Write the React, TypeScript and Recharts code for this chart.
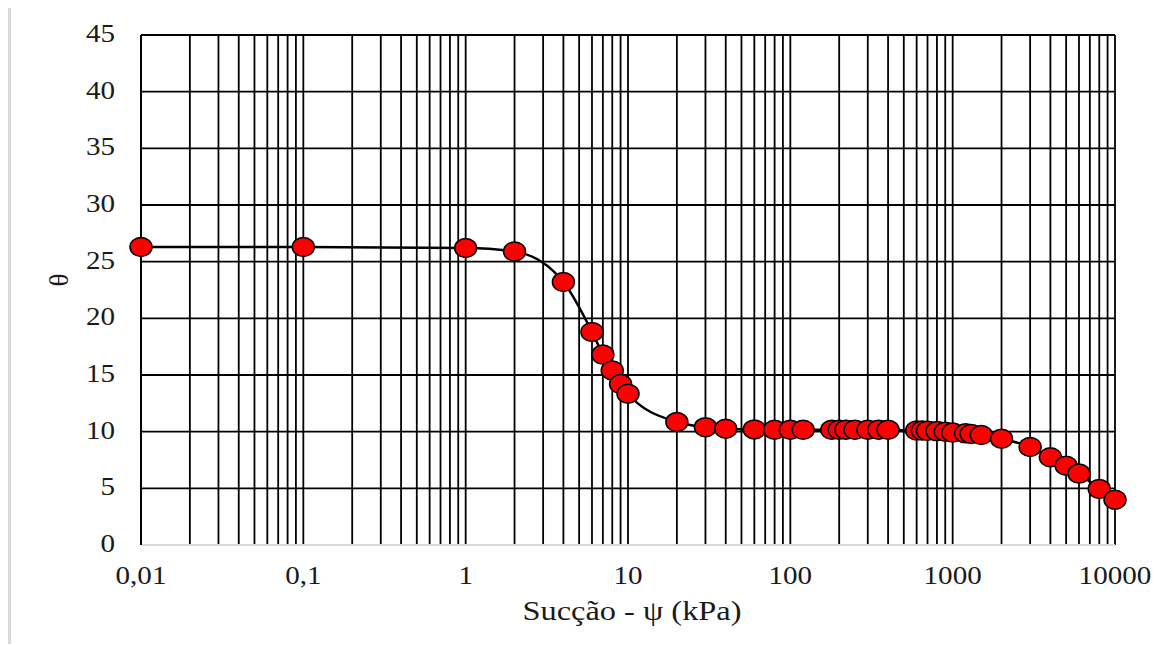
import React from "react";
import { LineChart, Line, XAxis, YAxis, CartesianGrid } from "recharts";

// Retention curve: suction (kPa, log axis) vs volumetric water content θ
const suction = [
  0.01, 0.1, 1, 2, 4, 6, 7, 8, 9, 10, 20, 30, 40, 60, 80, 100, 120, 180, 200,
  220, 250, 300, 350, 400, 600, 650, 700, 800, 900, 1000, 1200, 1300, 1500,
  2000, 3000, 4000, 5000, 6000, 8000, 10000,
];
const theta = [
  26.3, 26.3, 26.2, 25.9, 23.2, 18.8, 16.8, 15.4, 14.2, 13.35, 10.85, 10.4,
  10.26, 10.2, 10.17, 10.17, 10.17, 10.17, 10.17, 10.17, 10.17, 10.17, 10.17,
  10.17, 10.1, 10.1, 10.08, 10.05, 10.0, 9.92, 9.85, 9.8, 9.7, 9.38, 8.65,
  7.75, 7.0, 6.3, 4.95, 4.0,
];

const xTicks = [0.01, 0.1, 1, 10, 100, 1000, 10000];
const yTicks = [0, 5, 10, 15, 20, 25, 30, 35, 40, 45];

// vertical grid at 1..9 of every decade
const xGrid = xTicks
  .slice(0, -1)
  .flatMap((d) => [1, 2, 3, 4, 5, 6, 7, 8, 9].map((m) => +(d * m).toPrecision(3)))
  .concat(10000);

const data = suction.map((s, i) => ({ suction: s, theta: theta[i] }));

const FONT = "'Liberation Serif', 'Times New Roman', serif";
const STRETCH = 1.12;
const TEXT = "#1a1a1a";

const XTick = ({ x, y, payload }: any) => (
  <g transform={`translate(${x},${y + 39})`}>
    <text transform={`scale(${STRETCH},1)`} textAnchor="middle" fontFamily={FONT} fontSize={26} fill={TEXT}>
      {String(payload.value).replace(".", ",")}
    </text>
  </g>
);

const YTick = ({ x, y, payload }: any) => (
  <g transform={`translate(${x - 26},${y + 7})`}>
    <text transform={`scale(${STRETCH},1)`} textAnchor="end" fontFamily={FONT} fontSize={26} fill={TEXT}>
      {payload.value}
    </text>
  </g>
);

const XTitle = ({ viewBox }: any) => (
  <g transform={`translate(${viewBox.x + viewBox.width / 2 + 4},${viewBox.y + 75})`}>
    <text transform="scale(1.2,1)" textAnchor="middle" fontFamily={FONT} fontSize={27} fill={TEXT}>
      Sucção - ψ (kPa)
    </text>
  </g>
);

const YTitle = ({ viewBox }: any) => (
  <g transform={`translate(48,${viewBox.y + viewBox.height / 2 - 10}) rotate(-90)`}>
    <text textAnchor="middle" dominantBaseline="central" fontFamily={FONT} fontSize={27} fill={TEXT}>
      θ
    </text>
  </g>
);

const Dot = ({ cx, cy, index }: any) => (
  <ellipse key={index} cx={cx} cy={cy} rx={11} ry={9.5} fill="#ff0000" stroke="#000" strokeWidth={1.5} />
);

export default function App() {
  return (
    <div style={{ width: 1143, height: 636, borderLeft: "3px solid #d9d9d9" }}>
      <LineChart width={1140} height={636} data={data} margin={{ top: 27, right: 36, left: 0, bottom: 0 }}>
        <CartesianGrid
          stroke="#000"
          strokeWidth={1.8}
          verticalValues={xGrid}
          horizontalValues={yTicks.slice(1)}
        />
        <XAxis
          dataKey="suction"
          type="number"
          scale="log"
          domain={[0.01, 10000]}
          ticks={xTicks}
          interval={0}
          height={99}
          tickSize={0}
          tickMargin={0}
          tick={<XTick />}
          axisLine={{ stroke: "#d9d9d9", strokeWidth: 2 }}
          label={<XTitle />}
        />
        <YAxis
          type="number"
          domain={[0, 45]}
          ticks={yTicks}
          interval={0}
          width={130}
          tickSize={0}
          tickMargin={0}
          tick={<YTick />}
          axisLine={{ stroke: "#000", strokeWidth: 2 }}
          label={<YTitle />}
        />
        <Line
          type="monotone"
          dataKey="theta"
          stroke="#000"
          strokeWidth={2.5}
          dot={<Dot />}
          activeDot={false}
          isAnimationActive={false}
        />
      </LineChart>
    </div>
  );
}
